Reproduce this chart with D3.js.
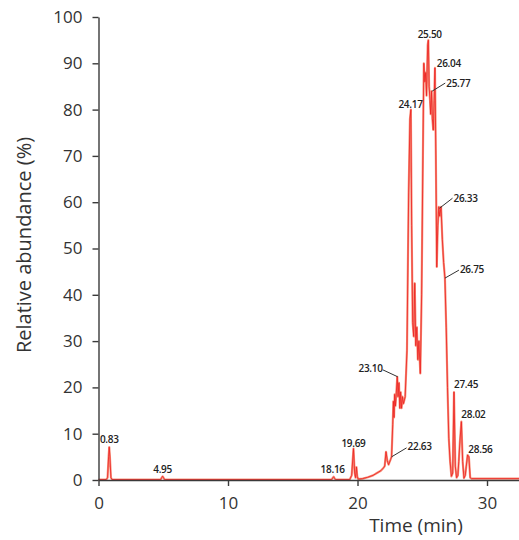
<!DOCTYPE html>
<html>
<head>
<meta charset="utf-8">
<script src="https://cdn.jsdelivr.net/npm/d3@7"></script>
<style>
  body { margin: 0; background: #fff; }
  svg { display: block; }
</style>
</head>
<body>
<svg id="chart"></svg>
<script>
// chromatogram trace, time (min) and relative abundance (%)
var times = [0, 0.6, 0.7, 0.78, 0.83, 0.88, 0.96, 1.05,
    4.8, 4.9, 4.95, 5.0, 5.1,
    18.0, 18.1, 18.16, 18.22, 18.3,
    19.4, 19.55, 19.69, 19.78, 19.85, 19.92, 19.98, 20.05,
    20.4, 20.8, 21.2, 21.5, 21.8, 22.0, 22.1, 22.2, 22.3, 22.4, 22.55, 22.63,
    22.72, 22.77, 22.82, 22.87, 22.93, 23.0, 23.07, 23.13, 23.2, 23.27, 23.33, 23.4, 23.47, 23.55,
    23.68, 23.82, 23.95, 24.05, 24.12, 24.18, 24.26, 24.34, 24.42, 24.5, 24.58, 24.66, 24.74, 24.85,
    24.95, 25.05, 25.12, 25.2, 25.27, 25.33, 25.42, 25.47, 25.53, 25.6, 25.65, 25.72, 25.78, 25.85,
    25.92, 25.98, 26.05, 26.12, 26.2, 26.28, 26.35, 26.45, 26.55, 26.65, 26.75, 26.85, 26.95,
    27.05, 27.15, 27.25, 27.35, 27.45, 27.55, 27.65, 27.75, 27.82, 27.9, 28.02, 28.12, 28.22,
    28.32, 28.4, 28.5, 28.6, 28.7, 28.8, 32.5]
var abundance = [0.1, 0.1, 0.5, 5, 7.1, 5, 0.5, 0.1,
    0.1, 0.6, 0.8, 0.6, 0.1,
    0.1, 0.5, 0.7, 0.4, 0.1,
    0.1, 1, 6.8, 1.5, 0.5, 2.8, 0.8, 0.2,
    0.3, 0.6, 1.0, 1.5, 2.0, 2.6, 3.0, 6.1, 4.2, 3.3, 4.4, 5.0,
    12, 17, 13.5, 18.5, 16, 19, 22.3, 18, 21, 15.5, 19, 15.5, 18, 16.5,
    18, 28, 62, 78, 80, 55, 34, 31, 42.5, 29, 33, 26, 30, 23,
    40, 70, 90, 86, 88, 83, 94, 95, 85, 82, 79, 84, 78, 75.6,
    82, 89, 70, 46, 55, 59, 57, 59, 52, 47, 43.6, 33, 20,
    9, 4, 0.8, 1.5, 19, 3, 0.5, 1, 4, 8, 12.6, 4, 0.4,
    1, 3, 5.4, 5, 0.5, 0.3, 0.3]

// peak annotations
var peakLabels = ["0.83", "4.95", "18.16", "19.69", "22.63", "23.10", "24.17", "25.50",
    "25.77", "26.04", "26.33", "26.75", "27.45", "28.02", "28.56"]
var peakTimes = [0.83, 4.95, 18.16, 19.69, 22.63, 23.10, 24.17, 25.50,
    25.77, 26.04, 26.33, 26.75, 27.45, 28.02, 28.56]
var peakValues = [7.1, 0.8, 0.7, 6.8, 5.0, 22.3, 80, 95,
    84, 89, 58.7, 43.6, 19, 12.6, 5.4]

var xTicks = [0, 10, 20, 30]
var yTicks = [0, 10, 20, 30, 40, 50, 60, 70, 80, 90, 100]

// label placement: leader offset (lx, ly), text offset from that, anchor
var labelLayout = [
    {lx: 0, ly: 0, tx: 0, ty: -4, anchor: "middle", leader: false},
    {lx: 0, ly: 0, tx: 0, ty: -3, anchor: "middle", leader: false},
    {lx: 0, ly: 0, tx: -1, ty: -4, anchor: "middle", leader: false},
    {lx: 0, ly: 0, tx: 0, ty: -2, anchor: "middle", leader: false},
    {lx: 15, ly: -9, tx: 1, ty: 2, anchor: "start", leader: true},
    {lx: -15, ly: -7, tx: 0, ty: 2, anchor: "end", leader: true},
    {lx: 0, ly: 0, tx: -1, ty: -2, anchor: "middle", leader: false},
    {lx: 0, ly: 0, tx: 1, ty: -2, anchor: "middle", leader: false},
    {lx: 13, ly: -8, tx: 1, ty: 4, anchor: "start", leader: true},
    {lx: 0, ly: 0, tx: 1, ty: -1, anchor: "start", leader: false},
    {lx: 13, ly: -10, tx: 1, ty: 4, anchor: "start", leader: true},
    {lx: 14, ly: -8, tx: 1, ty: 3, anchor: "start", leader: true},
    {lx: 0, ly: 0, tx: 0, ty: -4, anchor: "start", leader: false},
    {lx: 0, ly: 0, tx: 0, ty: -4, anchor: "start", leader: false},
    {lx: 0, ly: 0, tx: 0, ty: -2, anchor: "start", leader: false}
]

var dims = {
    width: 519,
    height: 540,
    margin: {top: 17, bottom: 60, left: 98.5, right: 0}
}

var svg = d3.select("#chart")
    .attr("width", dims.width)
    .attr("height", dims.height)

var data = times.map((t, i) => [t, abundance[i]])

var xScale = d3.scaleLinear()
    .domain([0, 32.47])
    .range([dims.margin.left, dims.width - dims.margin.right])

var yScale = d3.scaleLinear()
    .domain([0, 100])
    .range([dims.height - dims.margin.bottom, dims.margin.top])

// trace: pale wide stroke with red core
var line = d3.line().x(d => xScale(d[0])).y(d => yScale(d[1]))

svg.append("path")
    .datum(data)
    .attr("d", line)
    .attr("fill", "none")
    .attr("stroke", "#f7917c")
    .attr("stroke-width", 2.2)
    .attr("stroke-linejoin", "round")

svg.append("path")
    .datum(data)
    .attr("d", line)
    .attr("fill", "none")
    .attr("stroke", "#ec2020")
    .attr("stroke-width", 0.8)
    .attr("stroke-linejoin", "round")

// axes
var xAxis = svg.append("g")
    .attr("transform", `translate(0, ${yScale(0)})`)
    .call(d3.axisBottom(xScale).tickValues(xTicks).tickSize(6).tickSizeOuter(0).tickPadding(11))

var yAxis = svg.append("g")
    .attr("transform", `translate(${xScale(0)}, 0)`)
    .call(d3.axisLeft(yScale).tickValues(yTicks).tickSize(6).tickSizeOuter(0).tickPadding(10))

svg.selectAll(".domain, .tick line")
    .attr("stroke", "#3a3a3a")
    .attr("stroke-width", 1.4)

svg.selectAll(".tick text")
    .attr("fill", "#333")
    .style("font-family", "'Open Sans', sans-serif")
    .style("font-size", "17px")

// axis titles
svg.append("text")
    .attr("transform", `translate(31, 245) rotate(-90)`)
    .attr("text-anchor", "middle")
    .attr("fill", "#333")
    .style("font-family", "'Open Sans', sans-serif")
    .style("font-size", "20px")
    .text("Relative abundance (%)")

svg.append("text")
    .attr("x", 416)
    .attr("y", 532)
    .attr("text-anchor", "middle")
    .attr("fill", "#333")
    .style("font-family", "'Open Sans', sans-serif")
    .style("font-size", "19px")
    .text("Time (min)")

// peak labels
var labels = svg.append("g")
    .selectAll("g")
    .data(peakLabels.map((s, i) => ({text: s, t: peakTimes[i], v: peakValues[i], lay: labelLayout[i]})))
    .enter()
    .append("g")
    .attr("transform", d => `translate(${xScale(d.t)}, ${yScale(d.v)})`)

labels.filter(d => d.lay.leader)
    .append("line")
    .attr("x1", 0).attr("y1", 0)
    .attr("x2", d => d.lay.lx).attr("y2", d => d.lay.ly)
    .attr("stroke", "#333")
    .attr("stroke-width", 1)

labels.append("text")
    .attr("x", d => d.lay.lx + d.lay.tx)
    .attr("y", d => d.lay.ly + d.lay.ty)
    .attr("text-anchor", d => d.lay.anchor)
    .attr("fill", "#222")
    .style("font-family", "'Open Sans', sans-serif")
    .style("font-size", "10px")
    .style("font-weight", 600)
    .style("letter-spacing", "-0.3px")
    .text(d => d.text)
</script>
</body>
</html>
